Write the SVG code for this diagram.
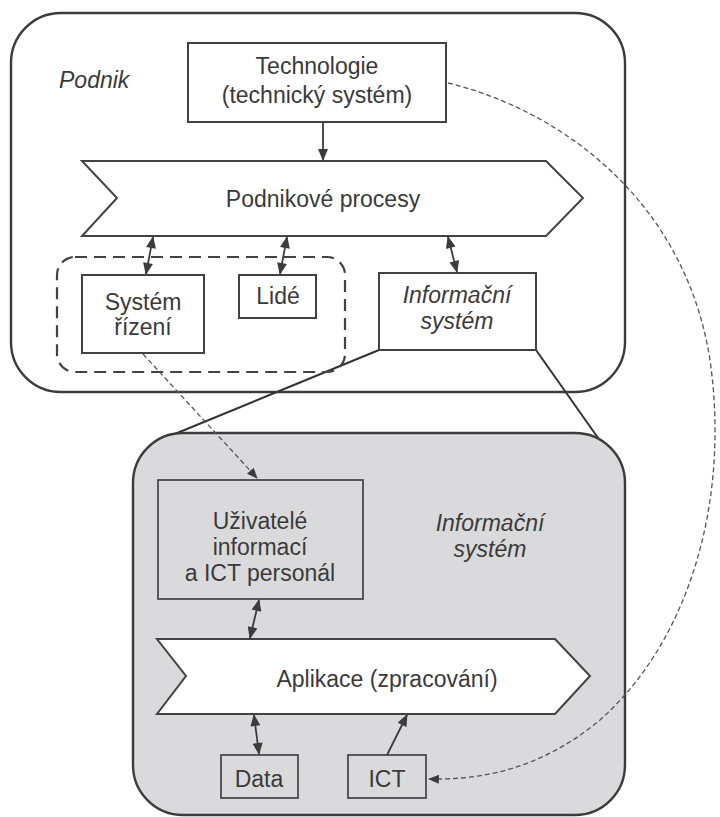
<svg xmlns="http://www.w3.org/2000/svg" width="720" height="817" viewBox="0 0 720 817">
<defs>
<marker id="ah" viewBox="0 0 12 10" refX="11" refY="5" markerWidth="13" markerHeight="10" markerUnits="userSpaceOnUse" orient="auto-start-reverse">
<path d="M0,0 L12,5 L0,10 z" fill="#3c3c3c"/>
</marker>
<marker id="ahs" viewBox="0 0 12 10" refX="11" refY="5" markerWidth="11" markerHeight="9" markerUnits="userSpaceOnUse" orient="auto-start-reverse">
<path d="M0,0 L12,5 L0,10 z" fill="#3c3c3c"/>
</marker>
</defs>
<style>
.box{fill:#ffffff;stroke:#424242;stroke-width:2}
.gbox{fill:none;stroke:#4a4a4a;stroke-width:1.8}
.frame{fill:#ffffff;stroke:#3c3c3c;stroke-width:2.4}
.t{font-family:"Liberation Sans",Arial,sans-serif;font-size:23px;fill:#3a3a3a;text-anchor:middle}
.it{font-style:italic}
.conn{stroke:#3c3c3c;stroke-width:1.8;fill:none}
.dash{stroke:#555555;stroke-width:1.3;fill:none;stroke-dasharray:5 3}
.zoom{stroke:#333333;stroke-width:2;fill:none}
</style>
<rect width="720" height="817" fill="#ffffff"/>

<g id="podnik">
<rect class="frame" x="11" y="13" width="614" height="379" rx="50"/>
<text class="t it" x="59" y="88" style="text-anchor:start">Podnik</text>
</g>

<g id="zoom-lines">
<line class="zoom" x1="379" y1="350" x2="165" y2="438"/>
<line class="zoom" x1="536" y1="350" x2="603" y2="445"/>
</g>

<g id="informacni-system-detail">
<rect x="133" y="433" width="492" height="382" rx="50" fill="#dadadc" stroke="#3c3c3c" stroke-width="2.4"/>
<text class="t it" x="490" y="531">Informační</text>
<text class="t it" x="490" y="557">systém</text>
</g>

<g id="technologie">
<rect class="box" x="188" y="43" width="258" height="79"/>
<text class="t" x="317" y="74">Technologie</text>
<text class="t" x="317" y="103">(technický systém)</text>
</g>

<g id="podnikove-procesy">
<path class="box" d="M82,161 L546,161 L583,198 L546,236 L82,236 L117,198 Z"/>
<text class="t" x="323" y="207">Podnikové procesy</text>
</g>

<g id="skupina">
<rect x="57" y="257" width="288" height="115" rx="18" fill="none" stroke="#424242" stroke-width="2.2" stroke-dasharray="12 7"/>
</g>

<g id="system-rizeni">
<rect class="box" x="82" y="275" width="122" height="78"/>
<text class="t" x="143" y="310">Systém</text>
<text class="t" x="143" y="335">řízení</text>
</g>

<g id="lide">
<rect class="box" x="239" y="275" width="77" height="43"/>
<text class="t" x="278" y="304">Lidé</text>
</g>

<g id="informacni-system">
<rect class="box" x="379" y="273" width="157" height="77"/>
<text class="t it" x="457" y="303">Informační</text>
<text class="t it" x="457" y="329">systém</text>
</g>

<g id="uzivatele">
<rect class="gbox" x="158" y="480" width="205" height="119"/>
<text class="t" x="260" y="529">Uživatelé</text>
<text class="t" x="260" y="555">informací</text>
<text class="t" x="260" y="581">a ICT personál</text>
</g>

<g id="aplikace">
<path class="box" d="M157,639 L555,639 L590,676 L555,714 L157,714 L186,676 Z"/>
<text class="t" x="387" y="687">Aplikace (zpracování)</text>
</g>

<g id="data">
<rect class="gbox" x="221" y="755" width="77" height="43"/>
<text class="t" x="259" y="787">Data</text>
</g>

<g id="ict">
<rect class="gbox" x="348" y="755" width="78" height="43"/>
<text class="t" x="387" y="787">ICT</text>
</g>

<g id="connectors">
<line class="conn" x1="323" y1="122" x2="323" y2="160" marker-end="url(#ah)"/>
<line class="conn" x1="153" y1="237" x2="146" y2="274" marker-start="url(#ah)" marker-end="url(#ah)"/>
<line class="conn" x1="287" y1="237" x2="280" y2="274" marker-start="url(#ah)" marker-end="url(#ah)"/>
<line class="conn" x1="448" y1="237" x2="457" y2="272" marker-start="url(#ah)" marker-end="url(#ah)"/>
<line class="conn" x1="259" y1="600" x2="250" y2="638" marker-start="url(#ah)" marker-end="url(#ah)"/>
<line class="conn" x1="254" y1="715" x2="259" y2="754" marker-start="url(#ah)" marker-end="url(#ah)"/>
<line class="conn" x1="387" y1="755" x2="407" y2="715" marker-end="url(#ah)"/>
<path class="dash" d="M143,354 L257,478" marker-end="url(#ahs)"/>
<path class="dash" d="M448,83 C560,110 685,200 710,360 C730,500 690,640 600,720 C540,770 480,780 429,779" marker-end="url(#ahs)"/>
</g>
</svg>
